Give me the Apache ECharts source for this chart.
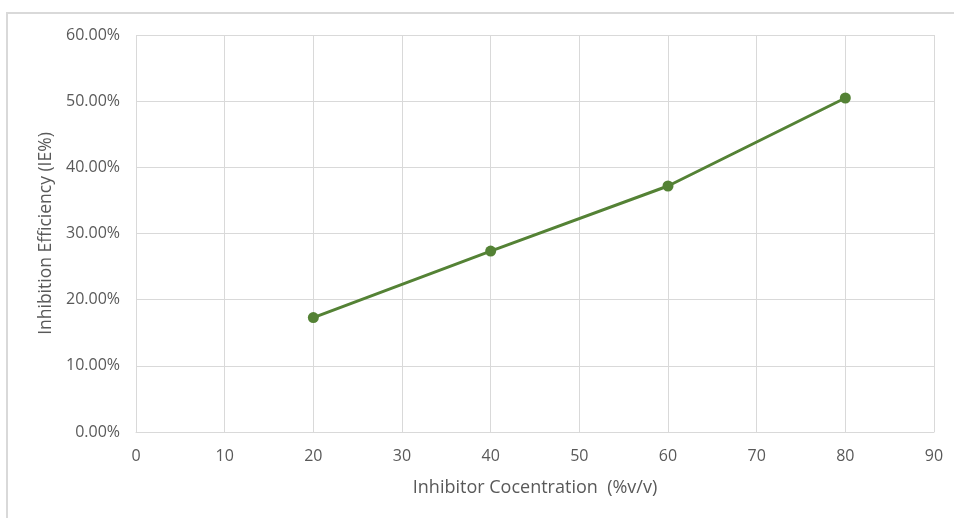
<!DOCTYPE html>
<html><head><meta charset="utf-8">
<script src="https://cdn.jsdelivr.net/npm/echarts@6/dist/echarts.min.js"></script>
<style>html,body{margin:0;padding:0;background:#fff}#c{width:954px;height:518px}</style>
</head><body><div id="c"></div>
<script>
const concentrations = [20, 40, 60, 80];
const efficiency = [0.1729, 0.2735, 0.3718, 0.5048];
const xTitle = 'Inhibitor Cocentration  (%v/v)';
const yTitle = 'Inhibition Efficiency (IE%)';

const chart = echarts.init(document.getElementById('c'), null, {renderer: 'canvas'});
const font = '"Open Sans", "Liberation Sans", sans-serif';
chart.setOption({
  animation: false,
  graphic: [{type: 'rect', shape: {x: 7, y: 13, width: 1000, height: 1000}, style: {fill: 'none', stroke: '#d9d9d9', lineWidth: 2}, silent: true}],
  grid: {left: 136, right: 20, top: 35, bottom: 86},
  xAxis: {
    type: 'value', min: 0, max: 90, interval: 10,
    name: xTitle, nameLocation: 'middle', nameGap: 47,
    nameTextStyle: {color: '#595959', fontSize: 18, fontFamily: font},
    axisLine: {show: true, lineStyle: {color: '#d9d9d9'}},
    axisTick: {show: false},
    axisLabel: {color: '#595959', fontSize: 16, fontFamily: font, margin: 16},
    splitLine: {show: true, lineStyle: {color: '#d9d9d9'}}
  },
  yAxis: {
    type: 'value', min: 0, max: 0.6, interval: 0.1,
    name: yTitle, nameLocation: 'middle', nameGap: 80,
    nameTextStyle: {color: '#595959', fontSize: 17.5, fontFamily: font},
    axisLine: {show: false}, axisTick: {show: false},
    axisLabel: {color: '#595959', fontSize: 16, fontFamily: font, margin: 16,
      formatter: v => (v * 100).toFixed(2) + '%'},
    splitLine: {show: true, lineStyle: {color: '#d9d9d9'}}
  },
  series: [{
    type: 'line',
    data: concentrations.map((x, i) => [x, efficiency[i]]),
    symbol: 'circle', symbolSize: 11,
    lineStyle: {color: '#548235', width: 3},
    itemStyle: {color: '#548235'}
  }]
});
</script></body></html>
